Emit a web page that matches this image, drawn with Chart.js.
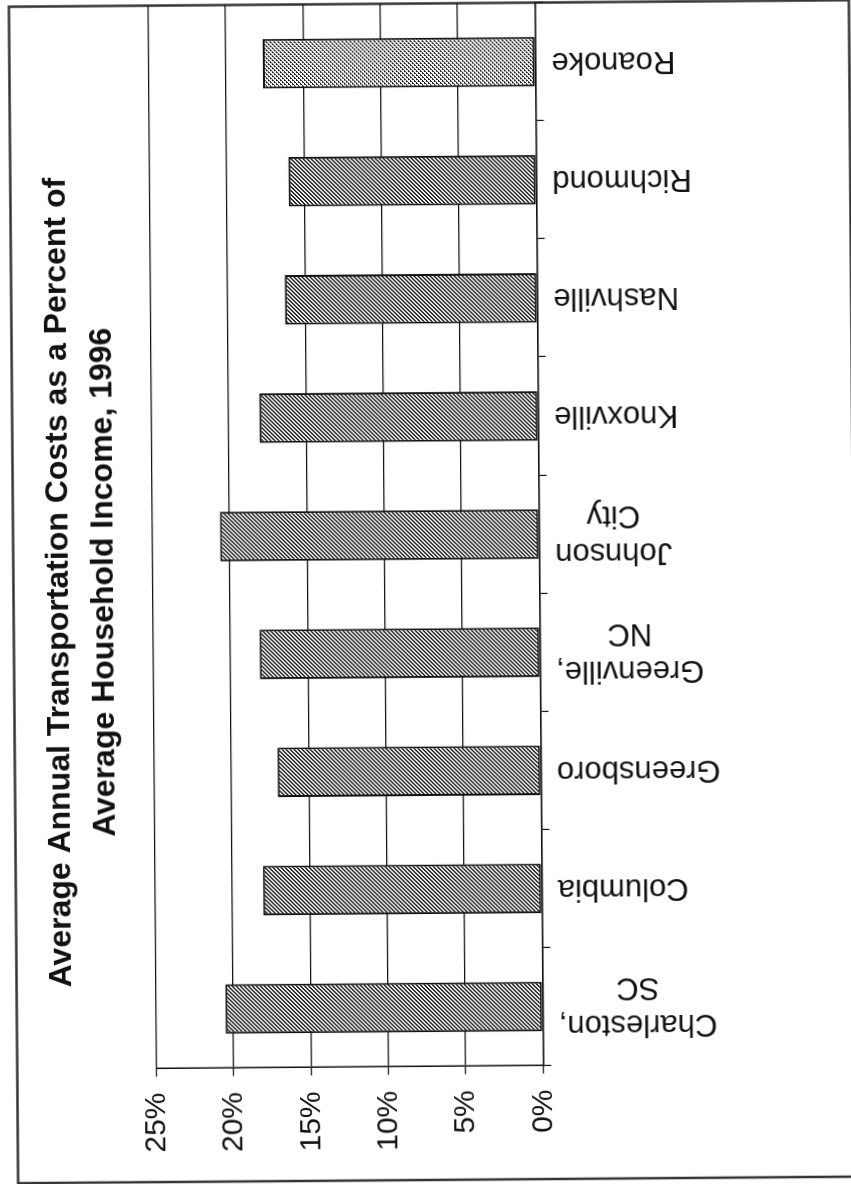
<!DOCTYPE html>
<html>
<head>
<meta charset="utf-8">
<title>Average Annual Transportation Costs</title>
<script src="https://cdn.jsdelivr.net/npm/chart.js@4.4.1/dist/chart.umd.min.js"></script>
<style>
    html, body { margin: 0; padding: 0; background: #fff; overflow: hidden; }
    #page {
        position: absolute; left: 0; top: 0; width: 851px; height: 1184px;
        transform-origin: 425.5px 592px;
        transform: rotate(-0.45deg);
    }
    /* the chart is an ordinary column chart, turned on its side like the scanned page */
    #myChart {
        position: absolute; left: 0; top: 0;
        transform-origin: 0 0;
        transform: rotate(-90deg) translateX(-1184px);
    }
</style>
</head>
<body>
<div id="page">
    <canvas id="myChart" width="1184" height="860"></canvas>
</div>
<script>
const cities = [
    ["Charleston,", "SC"],
    ["Columbia"],
    ["Greensboro"],
    ["Greenville,", "NC"],
    ["Johnson", "City"],
    ["Knoxville"],
    ["Nashville"],
    ["Richmond"],
    ["Roanoke"],
];
const costShare = [20.5, 18.0, 17.0, 18.1, 20.6, 18.0, 16.3, 16.0, 17.6];
const tickValues = [0, 5, 10, 15, 20, 25];
const tickLabels = ["0%", "5%", "10%", "15%", "20%", "25%"];
const titleLines = [
    "Average Annual Transportation Costs as a Percent of",
    "Average Household Income, 1996",
];
const highlightCity = "Roanoke";

const FONT = '"Liberation Sans", Arial, sans-serif';
const INK = "#111";

function makePattern(cells) {
    const c = document.createElement("canvas");
    c.width = 4;
    c.height = 4;
    const g = c.getContext("2d");
    g.fillStyle = "#fff";
    g.fillRect(0, 0, 4, 4);
    g.fillStyle = "#1c1c1c";
    cells.forEach(([cx, cy]) => g.fillRect(cx, cy, 1, 1));
    return g.createPattern(c, "repeat");
}

// diagonal hatch for most bars, a dotted screen for Roanoke
const hatch = makePattern([[3, 0], [0, 0], [2, 1], [3, 1], [1, 2], [2, 2], [0, 3], [1, 3]]);
const dots = makePattern([[0, 0], [1, 0], [0, 1], [2, 2], [3, 2], [2, 3]]);

const frame = {
    id: "frame",
    beforeDraw(chart) {
        const { ctx } = chart;
        ctx.save();
        ctx.strokeStyle = "#333";
        ctx.lineWidth = 2.5;
        ctx.strokeRect(4, 13.5, 1176.5, 840);
        ctx.restore();
    },
};

// category labels: block starts near the axis, lines centred on each other
const cityLabels = {
    id: "cityLabels",
    afterDraw(chart) {
        const { ctx } = chart;
        const x = chart.scales.x;
        ctx.save();
        ctx.font = "31px " + FONT;
        ctx.fillStyle = INK;
        ctx.textAlign = "center";
        ctx.textBaseline = "middle";
        cities.forEach((lines, i) => {
            const px = x.getPixelForValue(i);
            const w = Math.max(...lines.map((l) => ctx.measureText(l).width));
            const py = x.top + 16 + w / 2;
            ctx.save();
            ctx.translate(px, py);
            ctx.rotate(-Math.PI / 2);
            lines.forEach((l, k) => {
                ctx.fillText(l, 0, (k - (lines.length - 1) / 2) * 37);
            });
            ctx.restore();
        });
        ctx.restore();
    },
};

const ctx = document.getElementById("myChart").getContext("2d");
const myChart = new Chart(ctx, {
    type: "bar",
    data: {
        labels: cities,
        datasets: [
            {
                label: "Transportation costs",
                data: costShare,
                backgroundColor: cities.map((c) => (c.join(" ") === highlightCity ? dots : hatch)),
                borderColor: INK,
                borderWidth: 2,
                borderSkipped: false,
                barPercentage: 0.42,
                categoryPercentage: 1.0,
            },
        ],
    },
    options: {
        responsive: false,
        animation: false,
        devicePixelRatio: 1,
        layout: {
            padding: { left: 28, right: 3.5, top: 0, bottom: 0 },
        },
        plugins: {
            legend: { display: false },
            tooltip: { enabled: false },
            title: {
                display: true,
                text: titleLines,
                color: INK,
                font: { family: FONT, size: 32, weight: "bold", lineHeight: 1.4 },
                padding: { top: 36.5, bottom: 26.4 },
            },
        },
        scales: {
            x: {
                offset: true,
                grid: {
                    offset: true,
                    drawOnChartArea: false,
                    drawTicks: true,
                    tickLength: 8,
                    color: INK,
                    lineWidth: 1.2,
                },
                border: { display: true, color: INK, width: 1.5 },
                ticks: { display: false },
                afterFit: (s) => { s.height = 860 - 539.4; },
            },
            y: {
                min: 0,
                max: 25,
                afterBuildTicks: (s) => { s.ticks = tickValues.map((v) => ({ value: v })); },
                ticks: {
                    callback: (v) => tickLabels[tickValues.indexOf(v)],
                    color: INK,
                    padding: 16,
                    font: { family: FONT, size: 30 },
                },
                grid: { color: INK, lineWidth: 1.2, tickLength: 8 },
                border: { display: true, color: INK, width: 1.5 },
                afterFit: (s) => { s.width = 117.5 - 28; },
            },
        },
    },
    plugins: [frame, cityLabels],
});
</script>
</body>
</html>
